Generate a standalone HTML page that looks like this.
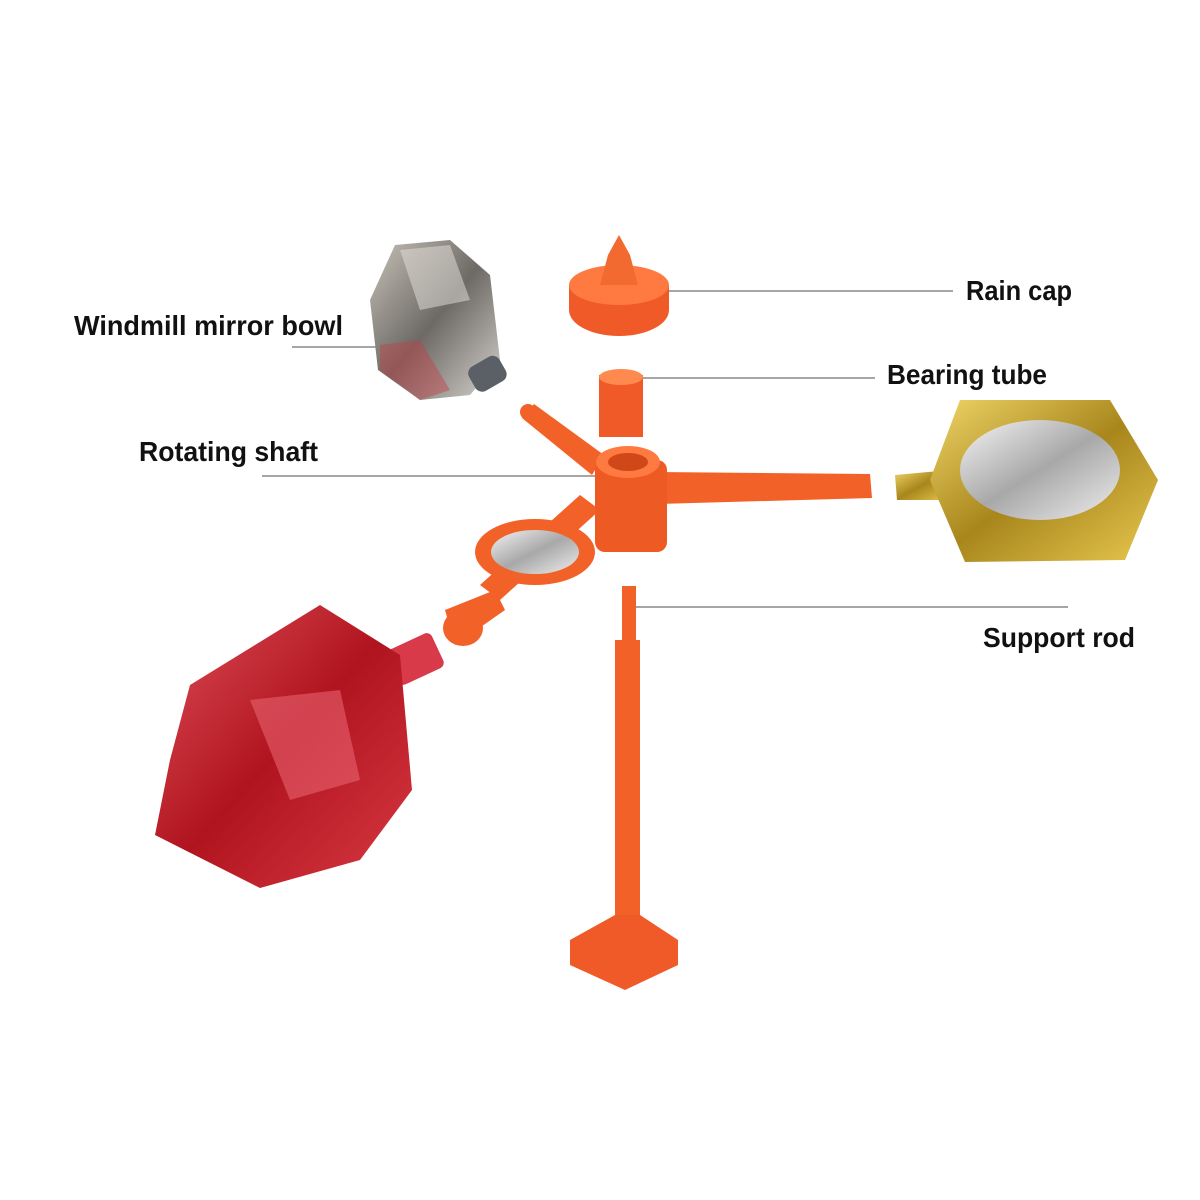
<!DOCTYPE html>
<html><head><meta charset="utf-8"><style>
html,body{margin:0;padding:0;background:#fff;}
svg{display:block}
text{font-family:"Liberation Sans",sans-serif;font-weight:bold;font-size:28px;fill:#111}
</style></head><body>
<svg width="1200" height="1200" viewBox="0 0 1200 1200">
<defs>
<linearGradient id="silver" x1="0" y1="0" x2="1" y2="1"><stop offset="0" stop-color="#c8c2b8"/><stop offset=".5" stop-color="#6d6a66"/><stop offset="1" stop-color="#d8d4d0"/></linearGradient>
<linearGradient id="red" x1="0" y1="0" x2="1" y2="1"><stop offset="0" stop-color="#e0505a"/><stop offset=".5" stop-color="#b0141e"/><stop offset="1" stop-color="#d93a44"/></linearGradient>
<linearGradient id="gold" x1="0" y1="0" x2="1" y2="1"><stop offset="0" stop-color="#f0d66a"/><stop offset=".5" stop-color="#a8861c"/><stop offset="1" stop-color="#e8c850"/></linearGradient>
<linearGradient id="mir" x1="0" y1="0" x2="1" y2="1"><stop offset="0" stop-color="#f4f4f4"/><stop offset=".5" stop-color="#a8a8a8"/><stop offset="1" stop-color="#eee"/></linearGradient>
</defs>
<g stroke="#888" stroke-width="1.5">
<line x1="630" y1="291" x2="953" y2="291"/>
<line x1="625" y1="378" x2="875" y2="378"/>
<line x1="262" y1="476" x2="622" y2="476"/>
<line x1="292" y1="347" x2="378" y2="347"/>
<line x1="635" y1="607" x2="1068" y2="607"/>
</g>
<polygon points="395,245 450,240 490,275 500,360 470,395 420,400 378,370 370,300" fill="url(#silver)"/>
<polygon points="380,345 420,340 450,390 420,400 380,370" fill="#c44048" opacity=".45"/>
<polygon points="400,250 450,245 470,300 420,310" fill="#e6e2dc" opacity=".5"/>
<rect x="470" y="360" width="35" height="28" rx="8" fill="#5a6066" transform="rotate(-30 487 374)"/>
<ellipse cx="619" cy="310" rx="50" ry="26" fill="#f05a28"/>
<rect x="569" y="285" width="100" height="25" fill="#f05a28"/>
<ellipse cx="619" cy="285" rx="50" ry="20" fill="#ff7a40"/>
<polygon points="600,285 608,255 619,235 630,255 638,285" fill="#f26a30"/>
<rect x="599" y="375" width="44" height="62" fill="#f05a28"/>
<ellipse cx="621" cy="377" rx="22" ry="8" fill="#ff8a50"/>
<g fill="#f26128">
<polygon points="522,418 534,404 604,455 592,475"/>
<circle cx="528" cy="412" r="8"/>
<polygon points="655,472 870,474 872,498 658,504"/>
<polygon points="580,495 600,510 500,600 480,585"/>
<polygon points="445,610 495,590 505,610 455,645"/>
<ellipse cx="463" cy="628" rx="20" ry="18"/>
</g>
<ellipse cx="535" cy="552" rx="60" ry="33" fill="#f26128"/>
<ellipse cx="535" cy="552" rx="44" ry="22" fill="url(#mir)"/>
<rect x="595" y="460" width="72" height="92" rx="10" fill="#ee5a24"/>
<ellipse cx="628" cy="462" rx="32" ry="16" fill="#ff7a40"/>
<ellipse cx="628" cy="462" rx="20" ry="9" fill="#d04818"/>
<polygon points="895,475 950,470 950,500 897,500" fill="url(#gold)"/>
<polygon points="960,400 1110,400 1158,480 1125,560 965,562 930,480" fill="url(#gold)"/>
<ellipse cx="1040" cy="470" rx="80" ry="50" fill="url(#mir)"/>
<rect x="622" y="586" width="14" height="60" fill="#f26128"/>
<rect x="615" y="640" width="25" height="280" fill="#f26128"/>
<polygon points="570,940 615,915 640,915 678,940 678,965 625,990 570,965" fill="#f05a28"/>
<rect x="390" y="640" width="50" height="38" rx="6" fill="#d83a4a" transform="rotate(-25 415 659)"/>
<polygon points="190,685 320,605 400,655 412,790 360,860 260,888 155,835 170,760" fill="url(#red)"/>
<polygon points="250,700 340,690 360,780 290,800" fill="#e86070" opacity=".6"/>
<text x="74" y="335" textLength="269" lengthAdjust="spacingAndGlyphs">Windmill mirror bowl</text>
<text x="966" y="300" textLength="106" lengthAdjust="spacingAndGlyphs">Rain cap</text>
<text x="887" y="384" textLength="160" lengthAdjust="spacingAndGlyphs">Bearing tube</text>
<text x="139" y="461" textLength="179" lengthAdjust="spacingAndGlyphs">Rotating shaft</text>
<text x="983" y="647" textLength="152" lengthAdjust="spacingAndGlyphs">Support rod</text>
</svg>
</body></html>
